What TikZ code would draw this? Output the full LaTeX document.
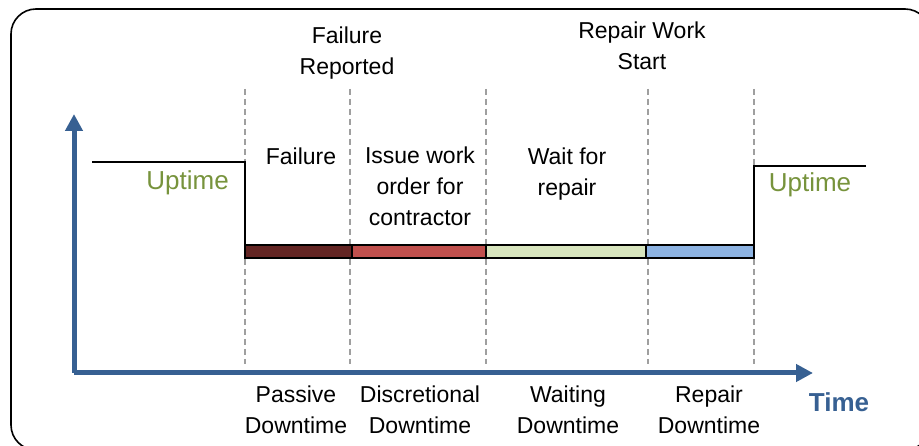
\documentclass[tikz,border=0pt]{standalone}
\usepackage{fontspec}
\setmainfont{Liberation Sans}
\usetikzlibrary{arrows.meta,positioning}

\definecolor{axisblue}{HTML}{376092}
\definecolor{uptimegreen}{HTML}{77933C}
\definecolor{passivered}{HTML}{632523}
\definecolor{discred}{HTML}{C0504D}
\definecolor{waitgreen}{HTML}{D7E4BD}
\definecolor{repairblue}{HTML}{8DB3E2}

\begin{document}
\begin{tikzpicture}[x=1pt,y=-1pt,
    axis/.style={draw=axisblue,line width=5pt,-{Triangle[length=17pt,width=17pt]}},
    mark line/.style={draw=gray!75,line width=1.3pt,dash pattern=on 6pt off 4pt},
    level/.style={draw=black,line width=1.5pt},
    seg/.style={draw=black,line width=1.5pt,minimum height=13pt,inner sep=0pt,outer sep=0pt,anchor=west},
    lbl/.style={font=\fontsize{23}{31}\selectfont,align=center,inner sep=0pt},
    up/.style={font=\fontsize{26}{31}\selectfont,text=uptimegreen,inner sep=0pt}]
  \useasboundingbox (0,0) rectangle (919,446);
  \clip (0,0) rectangle (919,446);
  \draw[line width=1.6pt,rounded corners=25pt] (11,9) rectangle (930,450);

  % axes
  \coordinate (orig) at (74,373);
  \coordinate (ytip) at (74,114);
  \coordinate (xtip) at (813,373);
  \draw[axis] (orig) -- (ytip);
  \draw[axis] (orig) -- (xtip);
  \node[font=\bfseries\fontsize{26}{31}\selectfont,text=axisblue,inner sep=0pt] (time) at (839,402) {Time};

  % event marks
  \foreach \x/\n in {245/a,350/b,486/c,648/d,754/e}{
    \coordinate (top\n) at (\x,89);
    \coordinate (bot\n) at (\x,364);
    \draw[mark line] (top\n) -- (bot\n);
  }

  % downtime bar
  \node[seg,fill=passivered,minimum width=107pt] (s1) at (245,251.5) {};
  \node[seg,fill=discred,minimum width=134pt] (s2) at (s1.east) {};
  \node[seg,fill=waitgreen,minimum width=160pt] (s3) at (s2.east) {};
  \node[seg,fill=repairblue,minimum width=108pt] (s4) at (s3.east) {};

  % uptime levels
  \coordinate (upl) at (92,162);
  \coordinate (upr) at (866,166);
  \draw[level] (upl) -| (s1.north west);
  \draw[level] (upr) -| (s4.north east);
  \node[up,anchor=east] (uptimel) at (229,183) {Uptime};
  \node[up] (uptimer) at (810,185) {Uptime};

  % events
  \node[lbl] (reported) at (347,53) {Failure\\Reported};
  \node[lbl] (start) at (642,46) {Repair Work\\Start};

  % activities
  \node[lbl] (failure) at (301,156) {Failure};
  \node[lbl] (issue) at (420,186) {Issue work\\order for\\contractor};
  \node[lbl] (wait) at (567,174) {Wait for\\repair};

  % downtime categories
  \node[lbl] (passive) at (296,410) {Passive\\Downtime};
  \node[lbl] (discr) at (420,410) {Discretional\\Downtime};
  \node[lbl] (waiting) at (568,410) {Waiting\\Downtime};
  \node[lbl] (repair) at (709,410) {Repair\\Downtime};
\end{tikzpicture}
\end{document}
